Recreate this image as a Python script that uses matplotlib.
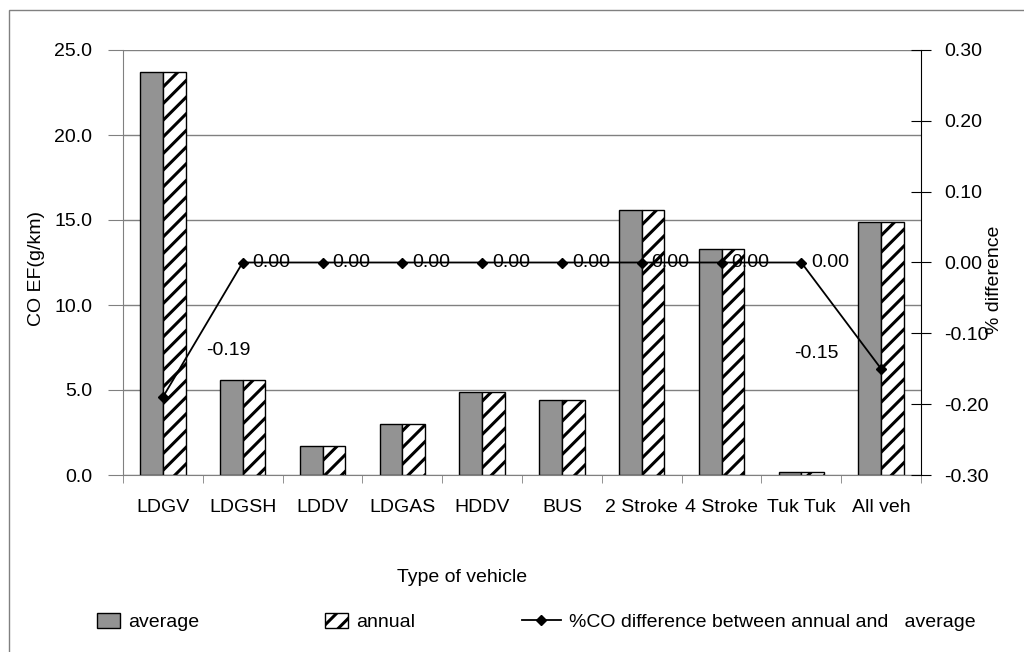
import numpy as np
import matplotlib
matplotlib.use('agg')
import matplotlib.pyplot as plt
from matplotlib.patches import Patch, Rectangle
from matplotlib.lines import Line2D

plt.rcParams['font.family'] = ['Liberation Sans', 'DejaVu Sans']
plt.rcParams['hatch.linewidth'] = 2.2

# CO emission factors by vehicle type
vehicles = ['LDGV', 'LDGSH', 'LDDV', 'LDGAS', 'HDDV', 'BUS',
            '2 Stroke', '4 Stroke', 'Tuk Tuk', 'All veh']
ef_average = [23.7, 5.6, 1.7, 3.0, 4.9, 4.4, 15.6, 13.3, 0.2, 14.9]
ef_annual = [23.7, 5.6, 1.7, 3.0, 4.9, 4.4, 15.6, 13.3, 0.2, 14.9]
pct_diff = [-0.19, 0.00, 0.00, 0.00, 0.00, 0.00, 0.00, 0.00, 0.00, -0.15]

GRID = '#808080'
fs = 14

fig = plt.figure(figsize=(10.24, 6.52), dpi=100)
ax = fig.add_axes([123/1024, 1 - 475/652, 798/1024, 425/652])
x = np.arange(len(vehicles))
w = 0.285

ax.bar(x - w/2, ef_average, w, color='#939393', edgecolor='black', linewidth=1, zorder=2)
ax.bar(x + w/2, ef_annual, w, color='white', edgecolor='black', linewidth=1,
       hatch='//', zorder=2)

ax.set_xlim(-0.5, len(vehicles) - 0.5)
ax.set_ylim(0, 25)
ax.set_yticks(np.arange(0, 25.1, 5))
ax.set_yticklabels([f'{v:.1f}' for v in np.arange(0, 25.1, 5)], fontsize=fs)
ax.yaxis.grid(True, color=GRID, linewidth=1)
ax.set_axisbelow(True)
ax.tick_params(axis='y', length=11, color=GRID, pad=11)

ax.set_xticks(x)
ax.set_xticklabels(vehicles, fontsize=fs)
ax.set_xticks(np.arange(-0.5, len(vehicles)), minor=True)
ax.tick_params(axis='x', which='major', length=0, pad=17)
ax.tick_params(axis='x', which='minor', length=6, color=GRID)

for s in ['top', 'right']:
    ax.spines[s].set_visible(False)
for s in ['left', 'bottom']:
    ax.spines[s].set_color(GRID)

ax.set_ylabel('CO EF(g/km)', fontsize=fs)
ax.yaxis.set_label_coords(-0.098, 0.487)

# secondary axis for % difference
ax2 = ax.twinx()
ax2.set_ylim(-0.3, 0.3)
ax2.set_yticks(np.arange(-0.3, 0.31, 0.1))
ax2.set_yticklabels([f'{v:.2f}' for v in np.arange(-0.3, 0.31, 0.1)], fontsize=fs)
ax2.tick_params(axis='y', direction='inout', length=14, pad=10, color='black')
for s in ['top', 'left', 'bottom']:
    ax2.spines[s].set_visible(False)
ax2.spines['right'].set_color('black')
ax2.set_ylabel('% difference', fontsize=fs, rotation=90)
ax2.yaxis.set_label_coords(1.082, 0.46)

ax2.plot(x, pct_diff, color='black', linewidth=1.3, marker='D', markersize=5, zorder=3)
for i, v in enumerate(pct_diff):
    if i == 0:
        off, ha = (65, 47), 'center'
    elif i == len(pct_diff) - 1:
        off, ha = (-65, 15), 'center'
    else:
        off, ha = (10, 0), 'left'
    ax2.annotate(f'{v:.2f}', (x[i], v), xytext=off, textcoords='offset pixels',
                 ha=ha, va='center', fontsize=fs)

fig.text(462/1024, 1 - 578/652, 'Type of vehicle', ha='center', va='center', fontsize=fs)

# legend entries spread along the bottom
h_avg = Patch(facecolor='#939393', edgecolor='black')
h_ann = Patch(facecolor='white', edgecolor='black', hatch='//')
h_diff = Line2D([], [], color='black', marker='D', markersize=5, linewidth=1.3)
for h, lbl, xpos, hl in [(h_avg, 'average', 97, 1.2),
                         (h_ann, 'annual', 325, 1.2),
                         (h_diff, '%CO difference between annual and   average', 522, 2.0)]:
    fig.legend(handles=[h], labels=[lbl], loc='center left',
               bbox_to_anchor=(xpos/1024, 1 - 622/652), frameon=False,
               borderpad=0, borderaxespad=0, handlelength=hl, handleheight=0.85,
               handletextpad=0.4, fontsize=fs)

# chart frame
fig.add_artist(Rectangle((9/1024, -0.1), 1.2, 1 - 10/652 + 0.1,
                         transform=fig.transFigure, fill=False,
                         edgecolor=GRID, linewidth=1))

fig.savefig('out.png', dpi=100)
